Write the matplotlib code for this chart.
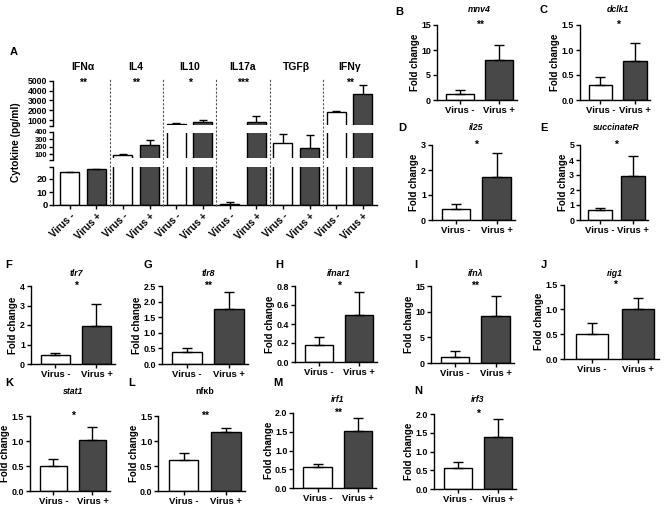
import matplotlib
matplotlib.use('Agg')
import matplotlib.pyplot as plt
import numpy as np
from matplotlib.transforms import blended_transform_factory
from matplotlib.lines import Line2D
from matplotlib.patches import Rectangle

plt.rcParams['font.family'] = ['Liberation Sans', 'DejaVu Sans']
plt.rcParams['font.weight'] = 'bold'
plt.rcParams['axes.linewidth'] = 1.0

# ---------------- data ----------------
groups = ['Virus -', 'Virus +']

cytokines = ['IFNα', 'IL4', 'IL10', 'IL17a', 'TGFβ', 'IFNγ']
cyt_stars = ['**', '**', '*', '***', '', '**']
cyt_neg_mean = [25, 95, 650, 0.8, 245, 1780]
cyt_neg_sem = [0.3, 15, 40, 1.8, 120, 130]
cyt_pos_mean = [27.5, 225, 850, 820, 180, 3700]
cyt_pos_sem = [0.5, 65, 150, 620, 170, 860]

letters = ['B', 'C', 'D', 'E', 'F', 'G', 'H', 'I', 'J', 'K', 'L', 'M', 'N']
genes = ['mnv4', 'dclk1', 'il25', 'succinateR', 'tlr7', 'tlr8', 'ifnar1',
         'ifnλ', 'rig1', 'stat1', 'nfκb', 'irf1', 'irf3']
gene_italic = [True] * 10 + [False] + [True, True]
gene_stars = ['**', '*', '*', '*', '*', '**', '*', '**', '*', '*', '**', '**', '*']
gene_neg_mean = [1.1, 0.29, 0.42, 0.65, 0.45, 0.40, 0.18, 1.2, 0.51, 0.50, 0.63, 0.55, 0.55]
gene_neg_sem = [0.9, 0.16, 0.21, 0.13, 0.13, 0.12, 0.08, 1.1, 0.21, 0.15, 0.14, 0.08, 0.18]
gene_pos_mean = [8.0, 0.78, 1.72, 2.93, 1.95, 1.77, 0.50, 9.2, 1.0, 1.03, 1.19, 1.52, 1.38]
gene_pos_sem = [3.0, 0.36, 0.95, 1.32, 1.13, 0.53, 0.24, 3.8, 0.22, 0.25, 0.08, 0.35, 0.48]
gene_ymax = [15, 1.5, 3, 5, 4, 2.5, 0.8, 15, 1.5, 1.5, 1.5, 2.0, 2.0]
gene_ystep = [5, 0.5, 1, 1, 1, 0.5, 0.2, 5, 0.5, 0.5, 0.5, 0.5, 0.5]

# ---------------- style / layout ----------------
W, H = 669, 511
fig = plt.figure(figsize=(W / 100, H / 100), dpi=100)
DARK = '#484848'
FILLS = ['white', DARK]
EDGE_LW = 1.0
TICK_FS = 6.4


def px_axes(x0, x1, ytop, ybot):
    return fig.add_axes([x0 / W, 1 - ybot / H, (x1 - x0) / W, (ybot - ytop) / H])


def fx(x):
    return x / W


def fy(y):
    return 1 - y / H


def style_axes(ax, fs=TICK_FS):
    for s in ['top', 'right']:
        ax.spines[s].set_visible(False)
    ax.tick_params(direction='out', length=3, width=1.0, pad=1.2, labelsize=fs)
    for lab in ax.get_yticklabels() + ax.get_xticklabels():
        lab.set_fontweight('bold')


# ---------------- panel A (broken axis) ----------------
ax_l, ax_r = 53, 377
segs = [  # (ytop px, ybot px, ylim, major ticks, end tick, label size, inset top px, inset bottom px)
    (80.7, 126.0, (400, 5000), [1000, 2000, 3000, 4000, 5000], 400, 6.2, 0, 0.8),
    (131.7, 159.7, (30, 400), [100, 200, 300, 400], 30, 5.4, 1.5, 1.5),
    (167.3, 205.0, (0, 29), [0, 10, 20], 29, 6.8, 0, 0),
]
n = len(cytokines)
xpos_neg = np.arange(n) * 2
xpos_pos = np.arange(n) * 2 + 1
cap_half = 0.15
seg_axes = []
for k, (yt, yb, ylim, ticks, endt, lfs, it, ib) in enumerate(segs):
    ax = px_axes(ax_l, ax_r, yt, yb)
    hpx = yb - yt
    clip = Rectangle((0, ib / hpx), 1, 1 - (ib + it) / hpx, transform=ax.transAxes,
                     fill=False, visible=False)
    ax.add_patch(clip)
    arts = []
    b1 = ax.bar(xpos_neg, cyt_neg_mean, width=0.72, color=FILLS[0], edgecolor='black', linewidth=EDGE_LW, zorder=2)
    b2 = ax.bar(xpos_pos, cyt_pos_mean, width=0.72, color=FILLS[1], edgecolor='black', linewidth=EDGE_LW, zorder=2)
    arts += list(b1) + list(b2)
    for xs, means, sems in ((xpos_neg, cyt_neg_mean, cyt_neg_sem), (xpos_pos, cyt_pos_mean, cyt_pos_sem)):
        tops = np.array(means) + np.array(sems)
        arts.append(ax.vlines(xs, means, tops, colors='black', linewidth=1.0, zorder=3))
        arts.append(ax.hlines(tops, xs - cap_half, xs + cap_half, colors='black', linewidth=1.0, zorder=3))
    for a in arts:
        a.set_clip_path(clip)
    ax.set_xlim(-0.62, 11.53)
    ax.set_ylim(*ylim)
    ax.set_yticks(ticks)
    ax.set_yticks([endt], minor=True)
    style_axes(ax, lfs)
    ax.tick_params(axis='y', which='minor', length=3, width=1.0, direction='out')
    ax.tick_params(axis='y', pad=1)
    if k < 2:
        ax.spines['bottom'].set_visible(False)
        ax.set_xticks([])
    else:
        xt = np.arange(2 * n)
        ax.set_xticks(xt)
        ax.set_xticklabels([groups[i % 2] for i in xt], rotation=45, ha='right',
                           rotation_mode='anchor', fontsize=7, fontweight='bold')
    seg_axes.append(ax)

ax_bot = seg_axes[2]
tr = blended_transform_factory(ax_bot.transData, fig.transFigure)
for xs in np.arange(1.5, 2 * n - 1, 2):
    fig.add_artist(Line2D([xs, xs], [fy(206), fy(78)], transform=tr, color='#555555',
                          lw=0.8, linestyle=(0, (2, 1.5))))
for i, name in enumerate(cytokines):
    fig.text(2 * i + 0.5, fy(67), name, transform=tr, ha='center', va='center',
             fontsize=7.5, fontweight='bold')
    if cyt_stars[i]:
        fig.text(2 * i + 0.5, fy(83), cyt_stars[i], transform=tr, ha='center', va='center',
                 fontsize=7.5, fontweight='bold')
fig.text(fx(16), fy(142), 'Cytokine (pg/ml)', rotation=90, ha='center', va='center',
         fontsize=7.3, fontweight='bold')
fig.text(fx(14), fy(52), 'A', ha='center', va='center', fontsize=8, fontweight='bold')

# ---------------- gene panels ----------------
layout = [  # x0, x1, ytop, ybot, letter x, letter y, title y
    (436.7, 516.7, 25, 100, 395, 11.7, 10),
    (580, 650, 25, 100, 540, 10, 10),
    (431.7, 515, 145, 220, 398, 128, 128),
    (580, 648, 145, 220, 540, 128, 128),
    (30.7, 115, 286, 364, 5, 265, 273),
    (161.7, 248, 286, 364, 143, 265, 273),
    (295, 376.7, 286, 362, 275, 265, 273),
    (430.7, 514, 286, 363, 414, 265, 273),
    (564, 659, 284.5, 359, 541, 265, 273),
    (30, 110, 416, 491, 5, 383, 392),
    (158.3, 245, 416, 491, 128, 383, 392),
    (293.3, 376, 413, 488, 273, 383, 399),
    (434, 515.7, 414, 489, 414, 391, 399),
]
for i in range(len(genes)):
    x0, x1, yt, yb, lx, ly, ty = layout[i]
    ax = px_axes(x0, x1, yt, yb)
    ax.bar([0], [gene_neg_mean[i]], width=0.7, color=FILLS[0], edgecolor='black', linewidth=EDGE_LW, zorder=2)
    ax.bar([1], [gene_pos_mean[i]], width=0.7, color=FILLS[1], edgecolor='black', linewidth=EDGE_LW, zorder=2)
    ax.errorbar([0, 1], [gene_neg_mean[i], gene_pos_mean[i]],
                yerr=[[0, 0], [gene_neg_sem[i], gene_pos_sem[i]]], fmt='none',
                ecolor='black', elinewidth=1.0, capsize=3.5, capthick=1.0, zorder=3)
    ax.set_xlim(-0.6, 1.45)
    ymax, st = gene_ymax[i], gene_ystep[i]
    ax.set_ylim(0, ymax)
    yt_vals = np.arange(0, ymax + st / 2, st)
    ax.set_yticks(yt_vals)
    if st < 1:
        ax.set_yticklabels(['%.1f' % v for v in yt_vals])
    else:
        ax.set_yticklabels(['%d' % v for v in yt_vals])
    ax.set_xticks([0, 1])
    ax.set_xticklabels(groups)
    style_axes(ax)
    ax.tick_params(axis='x', labelsize=6.8)
    ax.set_ylabel('Fold change', fontsize=7, fontweight='bold', labelpad=1)
    trg = blended_transform_factory(ax.transData, fig.transFigure)
    fig.text(0.5, fy(ty), genes[i], transform=trg, ha='center', va='center', fontsize=6.3,
             fontweight='bold', style='italic' if gene_italic[i] else 'normal')
    ax.text(0.5, ymax, gene_stars[i], ha='center', va='center', fontsize=7.5, fontweight='bold')
    fig.text(fx(lx), fy(ly), letters[i], ha='left', va='center', fontsize=8, fontweight='bold')

fig.savefig('out.png', dpi=100)
